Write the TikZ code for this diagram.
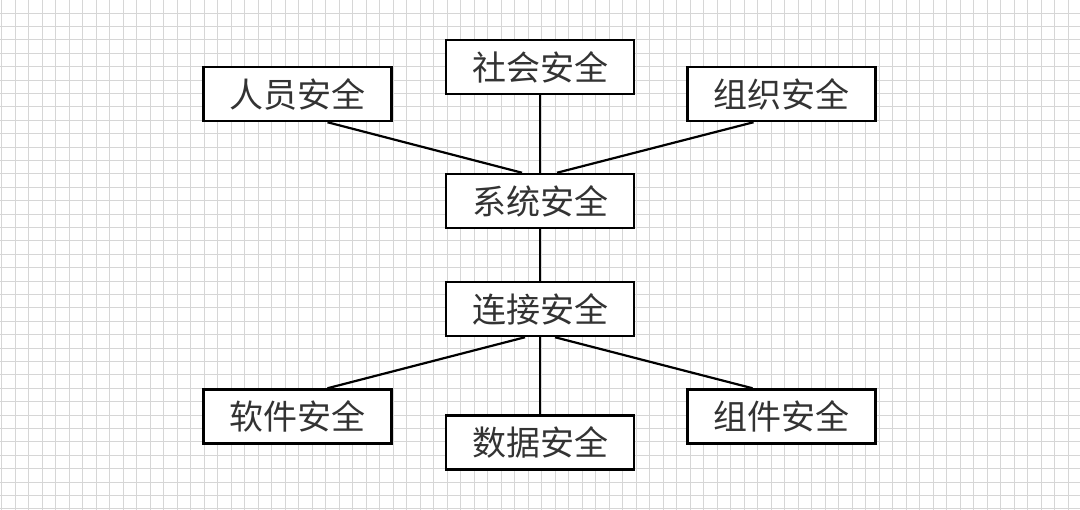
\documentclass[tikz,border=0pt]{standalone}
\usepackage{fontspec}
\newfontfamily\cjk{Noto Sans CJK SC}
\usetikzlibrary{calc}
\tikzset{
  gridline/.style={draw=black!16, line width=0.7pt},
  secbox/.style={draw=black, line width=2.5pt, fill=white, rectangle,
    minimum width=188pt, minimum height=54pt, inner sep=0pt,
    font=\cjk\fontsize{34}{40}\selectfont, text=black!80},
  link/.style={draw=black, line width=2.2pt}
}
\begin{document}
\begin{tikzpicture}[x=1pt,y=-1pt]
\useasboundingbox (0,0) rectangle (1080,510);
\fill[white] (0,0) rectangle (1080,510);
\begin{scope}
\clip (0,0) rectangle (1080,510);
\foreach \i in {0,...,80} {
  \draw[gridline] ({1.5+13.5*\i},0) -- ({1.5+13.5*\i},510);
}
\foreach \j in {0,...,38} {
  \draw[gridline] (0,{-0.5+13.4*\j}) -- (1080,{-0.5+13.4*\j});
}
\end{scope}

\node[secbox] (renyuan) at (297.5,94) {人员安全};
\node[secbox] (shehui) at (540,67) {社会安全};
\node[secbox] (zuzhi) at (781.5,94) {组织安全};
\node[secbox] (xitong) at (540,201) {系统安全};
\node[secbox] (lianjie) at (540,309) {连接安全};
\node[secbox] (ruanjian) at (297.5,416.5) {软件安全};
\node[secbox] (shuju) at (540,442.5) {数据安全};
\node[secbox] (zujian) at (781.5,416.5) {组件安全};

\draw[link] ($(renyuan.south)+(30,0)$) -- ($(xitong.north)+(-18,0)$);
\draw[link] (shehui.south) -- (xitong.north);
\draw[link] ($(zuzhi.south)+(-28,0)$) -- ($(xitong.north)+(17,0)$);
\draw[link] (xitong.south) -- (lianjie.north);
\draw[link] ($(lianjie.south)+(-15,0)$) -- ($(ruanjian.north)+(30,0)$);
\draw[link] (lianjie.south) -- (shuju.north);
\draw[link] ($(lianjie.south)+(15,0)$) -- ($(zujian.north)+(-29,0)$);
\end{tikzpicture}
\end{document}
